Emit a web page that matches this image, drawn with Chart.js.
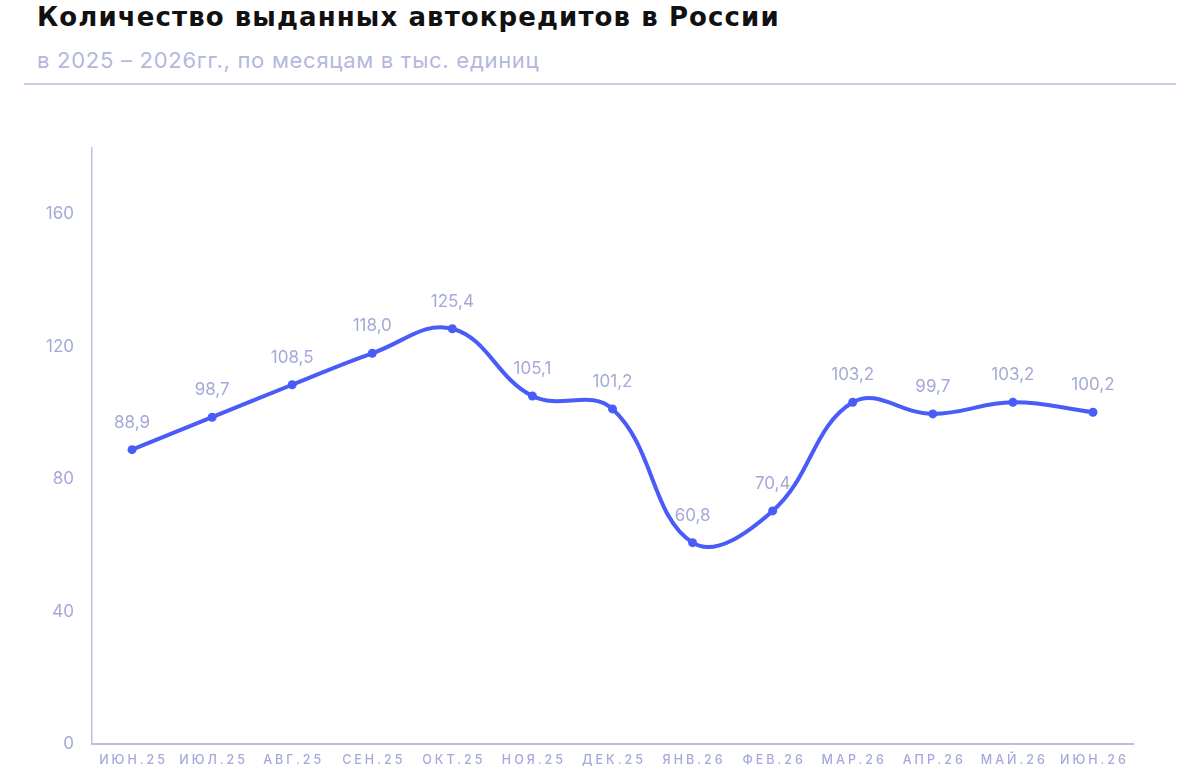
<!DOCTYPE html>
<html>
<head>
<meta charset="utf-8">
<script src="https://cdn.jsdelivr.net/npm/chart.js@4"></script>
<style>
  body { margin: 0; background: #fff; width: 1200px; height: 780px; overflow: hidden; font-family: Inter, "Noto Sans", sans-serif; }
  .title { position: absolute; left: 37px; top: 2px; font-family: "DejaVu Sans", sans-serif; font-size: 26px; font-weight: 700; color: #111; letter-spacing: 1.1px; }
  .subtitle { position: absolute; left: 37px; top: 47px; font-size: 22px; color: #b4b8de; letter-spacing: 0.72px; }
  .rule { position: absolute; left: 24px; top: 83px; width: 1152px; height: 2px; background: #c9cce8; }
  .wrap { position: absolute; left: 0; top: 100px; width: 1200px; height: 680px; }
</style>
</head>
<body>
<div class="title">Количество выданных автокредитов в России</div>
<div class="subtitle">в 2025 – 2026гг., по месяцам в тыс. единиц</div>
<div class="rule"></div>
<div class="wrap"><canvas id="chart"></canvas></div>
<script>
// months
const labels = ["ИЮН.25", "ИЮЛ.25", "АВГ.25", "СЕН.25", "ОКТ.25", "НОЯ.25", "ДЕК.25",
  "ЯНВ.26", "ФЕВ.26", "МАР.26", "АПР.26", "МАЙ.26", "ИЮН.26"];
// thousand loans
const loans = [88.9, 98.7, 108.5, 118.0, 125.4, 105.1, 101.2, 60.8, 70.4, 103.2, 99.7, 103.2, 100.2];
const yTicks = [0, 40, 80, 120, 160];

const lineColor = "#4a5cf7";
const softColor = "#a4a9d7";
const axisColor = "#bcc0e4";

// values above the points + spaced month labels
const valueLabels = {
  id: "valueLabels",
  afterDatasetsDraw(chart) {
    const ctx = chart.ctx;
    const meta = chart.getDatasetMeta(0);
    ctx.save();
    ctx.font = "17px Inter";
    ctx.fillStyle = softColor;
    ctx.textAlign = "center";
    ctx.textBaseline = "middle";
    meta.data.forEach((pt, i) => {
      ctx.fillText(loans[i].toFixed(1).replace(".", ","), pt.x, pt.y - 27);
    });

    const x = chart.scales.x;
    ctx.letterSpacing = "3px";
    ctx.font = "500 12.5px Inter";
    labels.forEach((lab, i) => {
      ctx.fillText(lab, x.getPixelForTick(i) + 1.5, x.top + 16);
    });
    ctx.restore();
  },
};

new Chart(document.getElementById("chart"), {
  type: "line",
  data: {
    labels: labels,
    datasets: [
      {
        data: loans,
        borderColor: lineColor,
        backgroundColor: lineColor,
        borderWidth: 4,
        tension: 0.4,
        pointRadius: 4.5,
        pointBackgroundColor: lineColor,
        pointBorderWidth: 0,
      },
    ],
  },
  options: {
    responsive: true,
    maintainAspectRatio: false,
    animation: false,
    layout: { padding: { top: 48, right: 67, left: 0, bottom: 0 } },
    plugins: { legend: { display: false }, tooltip: { enabled: false } },
    scales: {
      x: {
        offset: true,
        grid: { display: false, drawTicks: false },
        border: { color: axisColor, width: 2 },
        ticks: { display: false },
        afterFit(scale) {
          scale.height = 36;
        },
      },
      y: {
        min: 0,
        max: 180,
        grid: { display: false, drawTicks: false },
        border: { color: axisColor, width: 1.5 },
        ticks: {
          color: softColor,
          font: { family: "Inter", size: 17 },
          padding: 18,
        },
        afterBuildTicks(scale) {
          scale.ticks = yTicks.map((v) => ({ value: v }));
        },
        afterFit(scale) {
          scale.width = 92;
        },
      },
    },
  },
  plugins: [valueLabels],
});
</script>
</body>
</html>
